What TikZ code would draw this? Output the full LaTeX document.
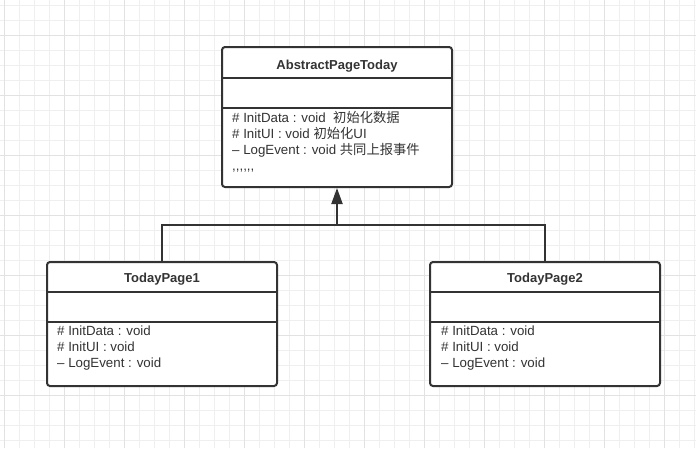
\documentclass[tikz,border=0pt]{standalone}
\usepackage{fontspec}
\setmainfont{Liberation Sans}
\newfontfamily\cjk{Noto Sans CJK SC}
\usetikzlibrary{arrows.meta}
\definecolor{umlline}{HTML}{333333}
\definecolor{gridminor}{HTML}{EFEFEF}
\definecolor{gridmajor}{HTML}{E2E2E2}

\begin{document}
\begin{tikzpicture}[x=1pt,y=-1pt,
  classbox/.style={draw=umlline, line width=2pt, fill=white, rounded corners=3pt, minimum width=230pt, inner sep=0pt},
  sepline/.style={draw=umlline, line width=2pt},
  titletext/.style={font=\fontsize{13}{16}\selectfont\bfseries, text=umlline, inner sep=0pt},
  bodytext/.style={font=\fontsize{13.3}{16}\selectfont, text=umlline, align=left, anchor=north west, inner sep=0pt},
  inherit/.style={draw=umlline, line width=2pt, -{Triangle[length=16pt,width=11pt]}}]
\useasboundingbox[fill=white] (0,0) rectangle (696,448);
% background grid
\foreach \gx in {4,19,...,696} \draw[gridminor, line width=1pt] (\gx,0) -- (\gx,448);
\foreach \gy in {5,20,...,448} \draw[gridminor, line width=1pt] (0,\gy) -- (696,\gy);
\foreach \gx in {4,64,...,696} \draw[gridmajor, line width=1pt] (\gx,0) -- (\gx,448);
\foreach \gy in {35,95,...,448} \draw[gridmajor, line width=1pt] (0,\gy) -- (696,\gy);

% classes
\node[classbox, minimum height=140pt] (abstract) at (337,117) {};
\node[classbox, minimum height=124pt] (page1) at (162,324) {};
\node[classbox, minimum height=124pt] (page2) at (545,324) {};
\draw[sepline] (abstract.west |- 0,78) -- (abstract.east |- 0,78);
\draw[sepline] (abstract.west |- 0,108) -- (abstract.east |- 0,108);
\draw[sepline] (page1.west |- 0,292) -- (page1.east |- 0,292);
\draw[sepline] (page1.west |- 0,322) -- (page1.east |- 0,322);
\draw[sepline] (page2.west |- 0,292) -- (page2.east |- 0,292);
\draw[sepline] (page2.west |- 0,322) -- (page2.east |- 0,322);

\node[titletext] (abstract title) at (337,66) {AbstractPageToday};
\node[titletext] (page1 title) at (162,279) {TodayPage1};
\node[titletext] (page2 title) at (545,279) {TodayPage2};
\node[bodytext] (abstract body) at (232,111) {\# InitData : void\ \ {\cjk 初始化数据}\\\# InitUI : void {\cjk 初始化}UI\\– LogEvent : void {\cjk 共同上报事件}\\,\kern0pt,\kern0pt,\kern0pt,\kern0pt,\kern0pt,};
\node[bodytext] (page1 body) at (57,326) {\# InitData : void\\\# InitUI : void\\– LogEvent : void};
\node[bodytext] (page2 body) at (441,326) {\# InitData : void\\\# InitUI : void\\– LogEvent : void};

% inheritance
\coordinate (bus) at (337,225);
\draw[sepline] (page1.north) |- (bus) -| (page2.north);
\draw[inherit] (bus) -- (abstract.south);
\end{tikzpicture}
\end{document}
